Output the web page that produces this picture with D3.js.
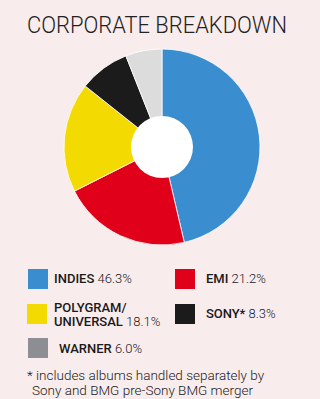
<!DOCTYPE html>
<html>
<head>
<meta charset="utf-8">
<script src="https://cdn.jsdelivr.net/npm/d3@7"></script>
<style>
  html, body { margin: 0; padding: 0; background: #f9ecec; }
  svg { display: block; }
</style>
</head>
<body>
<div id="chart"></div>
<script>
// data
const labels = ["INDIES", "EMI", "POLYGRAM/\nUNIVERSAL", "SONY*", "WARNER"];
const shares = [46.3, 21.2, 18.1, 8.3, 6.0];
const sliceColors = ["#3a8dcf", "#e1001a", "#f3da00", "#1b1b1b", "#dcdcdc"];
const swatchColors = ["#3a8dcf", "#e1001a", "#f3da00", "#1b1b1b", "#8d8d94"];
const footnote = ["* includes albums handled separately by", "Sony and BMG pre-Sony BMG merger"];

const width = 320;
const height = 399;

const svg = d3.select("#chart").append("svg")
  .attr("width", width)
  .attr("height", height);

svg.append("rect").attr("width", width).attr("height", height).attr("fill", "#f9ecec");

svg.append("text")
  .attr("x", 27).attr("y", 33)
  .attr("font-family", "Roboto, sans-serif")
  .attr("font-weight", 300)
  .attr("font-size", 24)
  .attr("textLength", 260)
  .attr("lengthAdjust", "spacingAndGlyphs")
  .attr("fill", "#222")
  .text("CORPORATE BREAKDOWN");

const pie = d3.pie().sort(null).value((d) => d);
const arc = d3.arc().innerRadius(0).outerRadius(98);

const g = svg.append("g").attr("transform", "translate(162,147)");
g.selectAll("path").data(pie(shares)).join("path")
  .attr("d", arc)
  .attr("fill", (d, i) => sliceColors[i])
  .attr("stroke", "#fff")
  .attr("stroke-width", 0.8);
g.append("circle").attr("r", 31).attr("fill", "#fff");

// legend
const legendPos = [
  { x: 28, y: 269, tx: 54, ty: 283 },
  { x: 175, y: 269, tx: 206, ty: 283 },
  { x: 27, y: 304, tx: 54, ty: 312 },
  { x: 175, y: 304, tx: 206, ty: 318 },
  { x: 28, y: 338, tx: 59, ty: 353 }
];

const legend = svg.append("g");
labels.forEach((lab, i) => {
  const p = legendPos[i];
  legend.append("rect")
    .attr("x", p.x).attr("y", p.y)
    .attr("width", 20).attr("height", 20)
    .attr("fill", swatchColors[i]);
  const lines = lab.split("\n");
  lines.forEach((line, j) => {
    const t = legend.append("text")
      .attr("x", p.tx).attr("y", p.ty + j * 14)
      .attr("font-family", "Roboto, sans-serif")
      .attr("font-size", 13)
      .attr("fill", "#1a1a1a");
    t.append("tspan").attr("font-weight", 500).text(line);
    if (j === lines.length - 1) {
      t.append("tspan").attr("font-weight", 300).text(" " + shares[i].toFixed(1) + "%");
    }
  });
});

footnote.forEach((line, i) => {
  svg.append("text")
    .attr("x", i === 0 ? 27 : 32).attr("y", 380 + i * 15)
    .attr("font-family", "Roboto, sans-serif")
    .attr("font-weight", 300)
    .attr("font-size", 13.5)
    .attr("fill", "#1a1a1a")
    .text(line);
});
</script>
</body>
</html>
